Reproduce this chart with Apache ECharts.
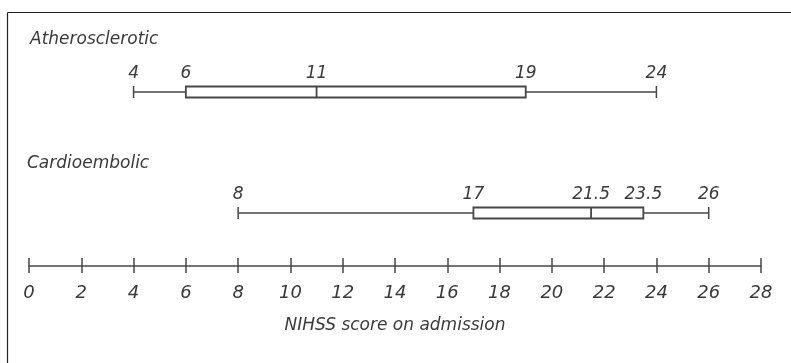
<!DOCTYPE html>
<html>
<head>
<meta charset="utf-8">
<script src="https://cdn.jsdelivr.net/npm/echarts@6/dist/echarts.min.js"></script>
<style>
  html, body { margin: 0; padding: 0; background: #ffffff; }
  #chart { width: 791px; height: 363px; }
</style>
</head>
<body>
<div id="chart"></div>
<script>
// NIHSS score on admission by stroke subtype: min, Q1, median, Q3, max
const groups = ['Atherosclerotic', 'Cardioembolic'];
const minVals = [4, 8];
const q1Vals = [6, 17];
const medianVals = [11, 21.5];
const q3Vals = [19, 23.5];
const maxVals = [24, 26];
const xTicks = [0, 2, 4, 6, 8, 10, 12, 14, 16, 18, 20, 22, 24, 26, 28];

// Vertical level (hidden y-axis units, pixels above the axis) of each group row
const rowLevel = { 'Atherosclerotic': 174, 'Cardioembolic': 53 };
// Offset of the group title above its row, and its horizontal nudge
const titleLift = { 'Atherosclerotic': 52, 'Cardioembolic': 49 };
const titleNudge = { 'Atherosclerotic': 1, 'Cardioembolic': -2 };

const seriesData = groups.map((g, i) => [i, minVals[i], q1Vals[i], medianVals[i], q3Vals[i], maxVals[i]]);

const TEXT = '#3a3a3a';
const LINE = '#474747';
const FONT = '"DejaVu Sans", "Noto Sans", sans-serif';

function renderItem(params, api) {
  const idx = api.value(0);
  const name = groups[idx];
  const level = rowLevel[name];
  const vals = [api.value(1), api.value(2), api.value(3), api.value(4), api.value(5)];
  const pts = vals.map(v => api.coord([v, level]));
  const y = pts[0][1];
  const half = 5.5;
  const children = [];
  // whiskers
  children.push({ type: 'line', shape: { x1: pts[0][0], y1: y, x2: pts[1][0], y2: y }, style: { stroke: LINE, lineWidth: 1.5 } });
  children.push({ type: 'line', shape: { x1: pts[3][0], y1: y, x2: pts[4][0], y2: y }, style: { stroke: LINE, lineWidth: 1.5 } });
  // whisker caps
  children.push({ type: 'line', shape: { x1: pts[0][0], y1: y - half - 0.5, x2: pts[0][0], y2: y + half + 0.5 }, style: { stroke: LINE, lineWidth: 1.5 } });
  children.push({ type: 'line', shape: { x1: pts[4][0], y1: y - half - 0.5, x2: pts[4][0], y2: y + half + 0.5 }, style: { stroke: LINE, lineWidth: 1.5 } });
  // box
  children.push({ type: 'rect', shape: { x: pts[1][0], y: y - half, width: pts[3][0] - pts[1][0], height: half * 2 }, style: { fill: '#ffffff', stroke: LINE, lineWidth: 1.8 } });
  // median
  children.push({ type: 'line', shape: { x1: pts[2][0], y1: y - half, x2: pts[2][0], y2: y + half }, style: { stroke: LINE, lineWidth: 1.8 } });
  // value labels
  vals.forEach((v, k) => {
    children.push({ type: 'text', x: pts[k][0], y: y - 18, style: { text: String(v), fill: TEXT, font: 'italic 17px ' + FONT, align: 'center', verticalAlign: 'middle' } });
  });
  // group title
  const gx = params.coordSys.x;
  children.push({ type: 'text', x: gx + titleNudge[name], y: y - titleLift[name], style: { text: name, fill: TEXT, font: 'italic 17px ' + FONT, align: 'left', verticalAlign: 'middle' } });
  return { type: 'group', children: children };
}

const chart = echarts.init(document.getElementById('chart'), null, { renderer: 'canvas' });
chart.setOption({
  backgroundColor: '#ffffff',
  animation: false,
  graphic: [
    { type: 'line', shape: { x1: 7.5, y1: 12.5, x2: 800, y2: 12.5 }, style: { stroke: '#222', lineWidth: 1.2 } },
    { type: 'line', shape: { x1: 7.5, y1: 12.5, x2: 7.5, y2: 370 }, style: { stroke: '#222', lineWidth: 1.2 } }
  ],
  grid: { left: 29, right: 30, top: 12, bottom: 97, containLabel: false },
  xAxis: [
    {
      type: 'value', min: xTicks[0], max: xTicks[xTicks.length - 1], interval: 2,
      position: 'bottom', offset: 0,
      name: 'NIHSS score on admission', nameLocation: 'middle', nameGap: 51,
      nameTextStyle: { color: TEXT, fontSize: 17, fontStyle: 'italic', fontFamily: FONT },
      axisLine: { show: true, lineStyle: { color: LINE, width: 1.5 } },
      axisTick: { show: true, inside: false, length: 7, lineStyle: { color: LINE, width: 1.5 } },
      axisLabel: { color: TEXT, fontSize: 18, fontStyle: 'italic', fontFamily: FONT, margin: 18 },
      splitLine: { show: false }
    },
    {
      type: 'value', min: xTicks[0], max: xTicks[xTicks.length - 1], interval: 2,
      position: 'bottom', offset: 0,
      axisLine: { show: false },
      axisTick: { show: true, inside: true, length: 8, lineStyle: { color: LINE, width: 1.5 } },
      axisLabel: { show: false },
      splitLine: { show: false }
    }
  ],
  yAxis: { type: 'value', min: 0, max: 254, show: false },
  series: [{
    type: 'custom',
    xAxisIndex: 0,
    renderItem: renderItem,
    data: seriesData,
    encode: { x: [1, 2, 3, 4, 5] }
  }]
});
</script>
</body>
</html>
